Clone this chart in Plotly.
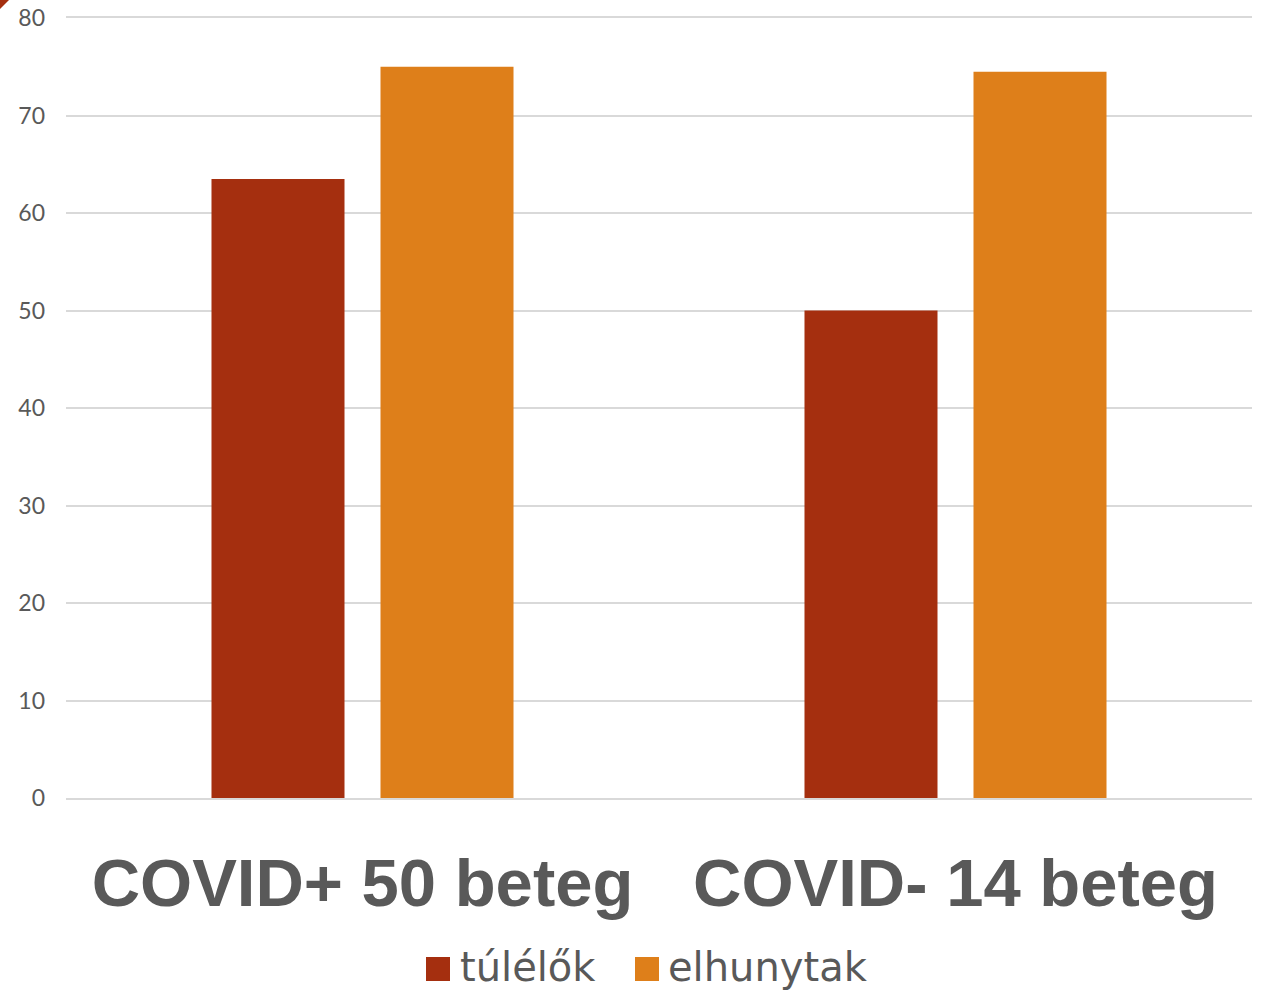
import plotly.graph_objects as go

categories = ["COVID+ 50 beteg", "COVID- 14 beteg"]
series_names = ["túlélők", "elhunytak"]
tulelok = [63.5, 50.0]
elhunytak = [75.0, 74.5]
colors = ["#A52F0F", "#DE7F1A"]
y_ticks = [0, 10, 20, 30, 40, 50, 60, 70, 80]

W, H = 1264, 993
ml, mr, mt, mb = 66, 12, 18, 195

fig = go.Figure()
for name, vals, col in zip(series_names, [tulelok, elhunytak], colors):
    fig.add_trace(go.Bar(x=categories, y=vals, name=name, marker=dict(color=col, line=dict(width=0)),
                         showlegend=False))

fig.update_layout(
    width=W, height=H,
    margin=dict(l=ml, r=mr, t=mt, b=mb, autoexpand=False),
    paper_bgcolor="white", plot_bgcolor="white",
    barmode="group", bargap=0.43, bargroupgap=0.213,
    font=dict(family="Lato", color="#595959"),
)
fig.update_yaxes(range=[0, 80], tickvals=y_ticks, showgrid=True, gridcolor="#D9D9D9", gridwidth=1.5,
                 zeroline=False, showline=False, ticks="", tickfont=dict(size=23, color="#595959"),
                 ticklabelstandoff=20, automargin=False)
fig.update_xaxes(showline=True, mirror=True, linecolor="#D9D9D9", linewidth=1.5, ticks="",
                 tickfont=dict(size=67, family="Liberation Sans", color="#595959", weight="bold"),
                 ticklabelstandoff=26, automargin=False)

# manual legend
pw = W - ml - mr
ph = H - mt - mb
def px2x(px):
    return (px - ml) / pw
def px2y(py):
    return (H - mb - py) / ph

legend_items = [(426, 461), (635, 669)]
for (sx, tx), name, col in zip(legend_items, series_names, colors):
    fig.add_shape(type="rect", xref="paper", yref="paper",
                  x0=px2x(sx), x1=px2x(sx + 24), y0=px2y(957), y1=px2y(981),
                  fillcolor=col, line=dict(width=0))
    fig.add_annotation(xref="paper", yref="paper", x=px2x(tx - 3), y=px2y(967), text=name,
                       showarrow=False, xanchor="left", yanchor="middle",
                       font=dict(size=40, family="DejaVu Sans", color="#595959"))

# corner decoration
fig.add_shape(type="path", xref="paper", yref="paper",
              path=f"M {px2x(0)} {px2y(0)} L {px2x(9)} {px2y(0)} L {px2x(0)} {px2y(9)} Z",
              fillcolor="#A52F0F", line=dict(width=0))

fig.write_html("out.html", config={"displayModeBar": False},
               post_script="document.body.style.margin='0';document.body.style.padding='0';"
                           "document.documentElement.style.overflow='hidden';")
